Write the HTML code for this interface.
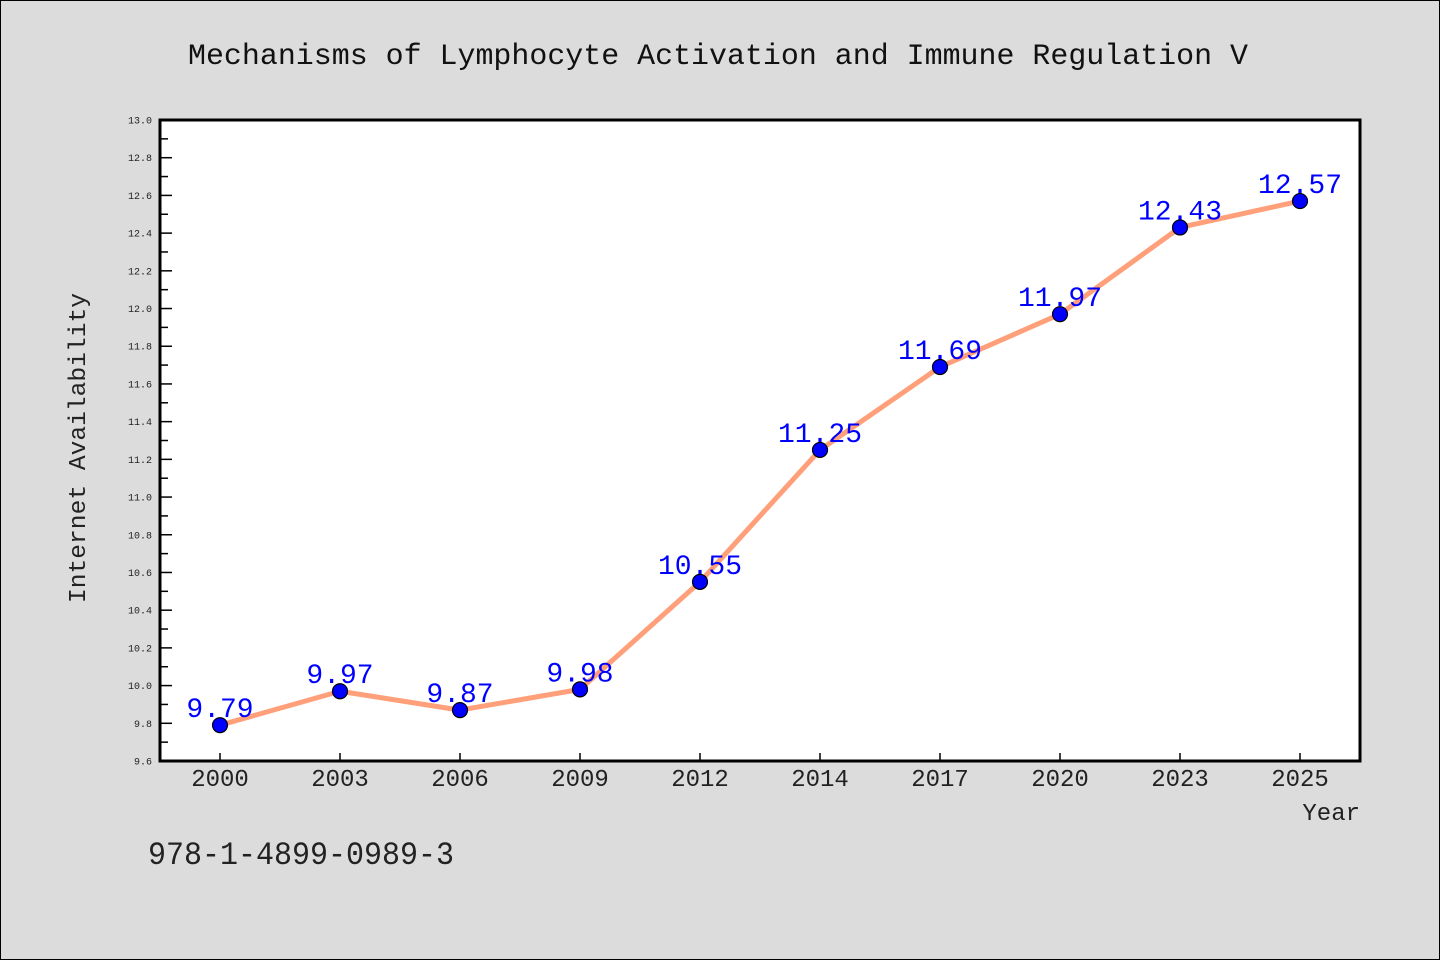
<!DOCTYPE html>
<html><head><meta charset="utf-8"><style>
html,body{margin:0;padding:0;background:#dcdcdc;}
svg{display:block;}
text{font-family:"WenQuanYi Zen Hei Mono","WenQuanYi Zen Hei","Liberation Mono",monospace;}
</style></head><body>
<svg id="chart" width="1440" height="960" viewBox="0 0 1440 960" xmlns="http://www.w3.org/2000/svg">
<rect x="0.5" y="0.5" width="1439" height="959" fill="#dcdcdc" stroke="#000" stroke-width="1"/>
<text x="718" y="64" font-size="30" text-anchor="middle" textLength="1060" lengthAdjust="spacingAndGlyphs" fill="#111">Mechanisms of Lymphocyte Activation and Immune Regulation V</text>
<rect x="160" y="120" width="1200" height="641" fill="#fff"/>
<g id="grid"></g>
<g id="series"></g>
<rect x="160" y="120" width="1200" height="641" fill="none" stroke="#000" stroke-width="3"/>
<text transform="translate(85,448) rotate(-90)" font-size="24" text-anchor="middle" textLength="310" lengthAdjust="spacingAndGlyphs" fill="#222">Internet Availability</text>
<text x="1360" y="820" font-size="24" text-anchor="end" fill="#222">Year</text>
<text x="148" y="864" font-size="32" textLength="306" lengthAdjust="spacingAndGlyphs" fill="#222">978-1-4899-0989-3</text>
</svg>
<script>
const categories = ["2000","2003","2006","2009","2012","2014","2017","2020","2023","2025"];
const values = [9.79,9.97,9.87,9.98,10.55,11.25,11.69,11.97,12.43,12.57];
const yTicks = [9.6,9.8,10.0,10.2,10.4,10.6,10.8,11.0,11.2,11.4,11.6,11.8,12.0,12.2,12.4,12.6,12.8,13.0];
const yMin = 9.6, yMax = 13.0;
const L=160,R=1360,T=120,B=761;
const NS="http://www.w3.org/2000/svg";
function xs(i){return L+(R-L)/categories.length*(i+0.5);}
function ys(v){return B-(v-yMin)/(yMax-yMin)*(B-T);}
function mk(tag,attrs,parent){const e=document.createElementNS(NS,tag);for(const k in attrs)e.setAttribute(k,attrs[k]);parent.appendChild(e);return e;}
const g=document.getElementById('grid'), s=document.getElementById('series');
yTicks.forEach((t,i)=>{
  const y=ys(t);
  const tk=mk('line',{x1:L,x2:L+12,y1:y,y2:y,stroke:'#000','stroke-width':1.5},g);
  
  
  const lb=mk('text',{x:152,y:y+3.5,'font-size':10,'text-anchor':'end',fill:'#222'},g);
  lb.textContent=t.toFixed(1);
  
  
  if(i<yTicks.length-1){
    const ym=ys(t+0.1);
    const mn=mk('line',{x1:L,x2:L+8,y1:ym,y2:ym,stroke:'#000','stroke-width':1.5},g);
    
    
  }
});
categories.forEach((c,i)=>{
  const x=xs(i);
  const tk=mk('line',{x1:x,x2:x,y1:B,y2:B-8,stroke:'#000','stroke-width':1.5},g);
  
  
  const lb=mk('text',{x:x,y:786,'font-size':24,'text-anchor':'middle',fill:'#222'},g);
  lb.textContent=c;
  
  
});
const line=mk('polyline',{points:values.map((v,i)=>xs(i)+','+ys(v)).join(' '),fill:'none',stroke:'#ffa07a','stroke-width':5,'stroke-linejoin':'round'},s);


values.forEach((v,i)=>{
  const pt=mk('circle',{cx:xs(i),cy:ys(v),r:7.5,fill:'#0000ff',stroke:'#000','stroke-width':1.2},s);
  
  
});
values.forEach((v,i)=>{
  const lb=mk('text',{x:xs(i),y:ys(v)-8,'font-size':28,'text-anchor':'middle',fill:'#0000ff'},s);
  lb.textContent=v.toFixed(2);
  
  
});
</script>
</body></html>
